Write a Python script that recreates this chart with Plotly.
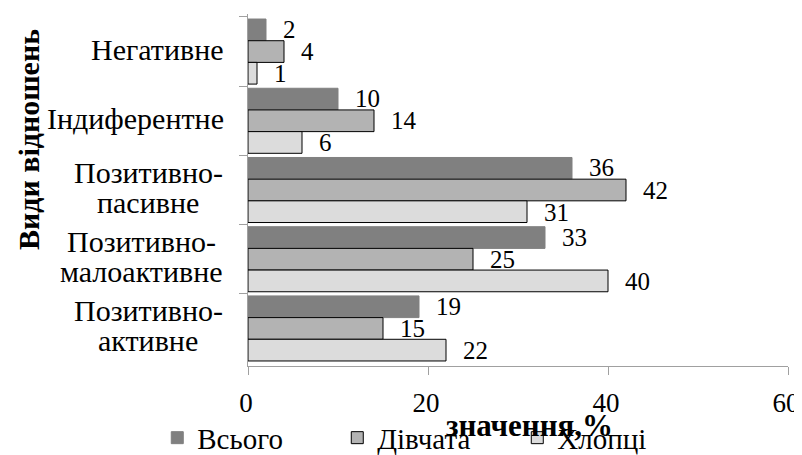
import plotly.graph_objects as go

categories = ["Негативне", "Індиферентне", "Позитивно-<br>пасивне",
              "Позитивно-<br>малоактивне", "Позитивно-<br>активне"]
series_names = ["Всього", "Дівчата", "Хлопці"]
vsogo = [2, 10, 36, 33, 19]
divchata = [4, 14, 42, 25, 15]
khloptsi = [1, 6, 31, 40, 22]
x_ticks = [0, 20, 40, 60]

fills = ["#808080", "#b3b3b3", "#dcdcdc"]
outlines = ["#808080", "#000000", "#000000"]
FONT = "'Liberation Serif', 'Times New Roman', 'DejaVu Serif', serif"

W, H = 794, 447
L, R, T, B = 240, 14, 6, 89
PW, PH = W - L - R, H - T - B
BARGAP = 0.06

def px_to_paper_x(px):
    return (px - L) / PW

fig = go.Figure()
all_series = [vsogo, divchata, khloptsi]
for name, vals, fc, lc in zip(series_names, all_series, fills, outlines):
    fig.add_trace(go.Bar(
        y=categories, x=vals, name=name, orientation="h",
        marker=dict(color=fc, line=dict(color=lc, width=1)),
        cliponaxis=False,
    ))

# value labels placed just right of each bar end
band = PH / len(categories)
bar_h = band * (1 - BARGAP) / len(all_series)
for k, vals in enumerate(all_series):
    shift = (1 - k) * bar_h
    for cat, v in zip(categories, vals):
        fig.add_annotation(text=str(v), x=v, y=cat, xref="x", yref="y",
                           xanchor="left", yanchor="middle", xshift=15, yshift=shift,
                           showarrow=False, font=dict(family=FONT, size=25, color="#000000"))

fig.update_layout(
    width=W, height=H,
    margin=dict(l=L, r=R, t=T, b=B, autoexpand=False),
    paper_bgcolor="white", plot_bgcolor="white",
    barmode="group", bargap=BARGAP, bargroupgap=0,
    font=dict(family=FONT, size=26, color="#000000"),
    showlegend=True,
    legend=dict(orientation="h", x=-0.168, y=-0.204, xanchor="left", yanchor="middle",
                font=dict(family=FONT, size=29), traceorder="normal",
                itemwidth=30, entrywidth=135, entrywidthmode="pixels",
                bgcolor="rgba(0,0,0,0)", maxheight=120),
    xaxis=dict(range=[0, 60], tickvals=x_ticks, showgrid=False, zeroline=False,
               showline=True, linecolor="#a0a0a0", linewidth=1,
               ticks="outside", ticklen=8, tickcolor="#a0a0a0",
               ticklabelstandoff=5, ticklabelshift=-2,
               tickfont=dict(family=FONT, size=27), automargin=False),
    yaxis=dict(autorange="reversed", showline=True, linecolor="#a0a0a0", linewidth=1,
               ticks="outside", tickson="boundaries", ticklen=8, tickcolor="#a0a0a0",
               showticklabels=False, showgrid=False, automargin=False),
)

# category labels (lines centred on each other, like the original)
label_centre_px = [None, None, 140, 133, 140]
for cat, cx in zip(categories, label_centre_px):
    lines = cat.split("<br>")
    if len(lines) == 1:
        fig.add_annotation(text=lines[0], xref="paper", yref="y", x=px_to_paper_x(218), y=cat,
                           xanchor="right", yanchor="middle", yshift=2.5, showarrow=False,
                           font=dict(family=FONT, size=30))
    else:
        for ln, ys in zip(lines, [18, -12]):
            fig.add_annotation(text=ln, xref="paper", yref="y", x=px_to_paper_x(cx), y=cat,
                               xanchor="center", yanchor="middle", yshift=ys, showarrow=False,
                               font=dict(family=FONT, size=30))

fig.add_annotation(text="<b>значення,%</b>", xref="paper", yref="paper",
                   x=0.522, y=-0.17, xanchor="center", yanchor="middle", showarrow=False,
                   font=dict(family=FONT, size=31))
fig.add_annotation(text="<b>Види відношень</b>", xref="paper", yref="paper",
                   x=px_to_paper_x(20), y=0.642, xanchor="center", yanchor="middle",
                   showarrow=False, textangle=-90, font=dict(family=FONT, size=30))

fig.write_html("out.html")
